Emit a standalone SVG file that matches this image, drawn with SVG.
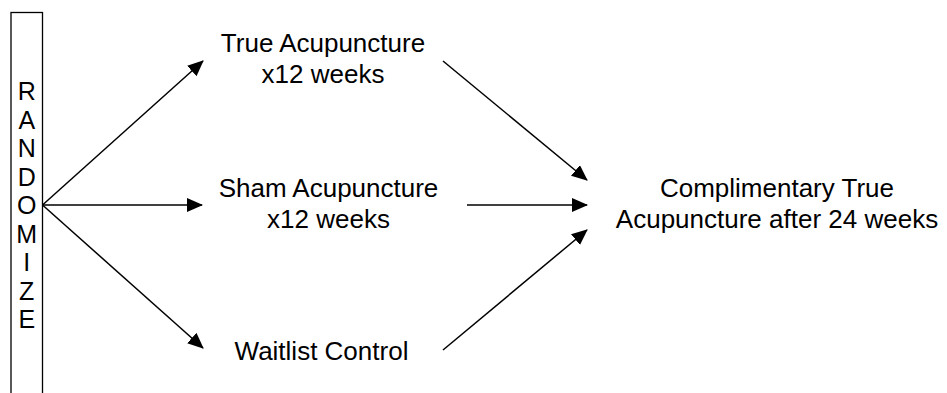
<svg xmlns="http://www.w3.org/2000/svg" width="947" height="393" viewBox="0 0 947 393">
<style>
text{font-family:"Liberation Sans",Arial,sans-serif;font-size:26px;fill:#000;text-anchor:middle}
.ltr{font-size:25px}
.c{stroke:#000;stroke-width:1.5;fill:none}
</style>
<defs>
<marker id="ah" viewBox="0 0 16 14" refX="15" refY="7" markerWidth="16" markerHeight="14" markerUnits="userSpaceOnUse" orient="auto">
<path d="M0,0 L16,7 L0,14 z" fill="#000"/>
</marker>
</defs>
<rect width="947" height="393" fill="#fff"/>
<g id="randomize">
<rect x="11" y="12.5" width="31.5" height="400" fill="none" stroke="#000" stroke-width="1.3"/>
<text class="ltr" x="26.75" y="100">R</text>
<text class="ltr" x="26.75" y="128.5">A</text>
<text class="ltr" x="26.75" y="157">N</text>
<text class="ltr" x="26.75" y="185.5">D</text>
<text class="ltr" x="26.75" y="214">O</text>
<text class="ltr" x="26.75" y="242.5">M</text>
<text class="ltr" x="26.75" y="271">I</text>
<text class="ltr" x="26.75" y="299.5">Z</text>
<text class="ltr" x="26.75" y="328">E</text>
</g>
<g id="true-acu">
<text x="323" y="52">True Acupuncture</text>
<text x="323" y="83">x12 weeks</text>
</g>
<g id="sham-acu">
<text x="328.5" y="197">Sham Acupuncture</text>
<text x="328.5" y="228">x12 weeks</text>
</g>
<g id="waitlist">
<text x="321.5" y="360">Waitlist Control</text>
</g>
<g id="complimentary">
<text x="777" y="197">Complimentary True</text>
<text x="777" y="228">Acupuncture after 24 weeks</text>
</g>
<g id="connectors">
<line class="c" x1="42.5" y1="205" x2="203" y2="61" marker-end="url(#ah)"/>
<line class="c" x1="42.5" y1="205" x2="202" y2="205" marker-end="url(#ah)"/>
<line class="c" x1="42.5" y1="205" x2="203" y2="348" marker-end="url(#ah)"/>
<line class="c" x1="443" y1="61" x2="587" y2="180" marker-end="url(#ah)"/>
<line class="c" x1="467" y1="205" x2="587" y2="205" marker-end="url(#ah)"/>
<line class="c" x1="443" y1="350" x2="587" y2="230" marker-end="url(#ah)"/>
</g>
</svg>
